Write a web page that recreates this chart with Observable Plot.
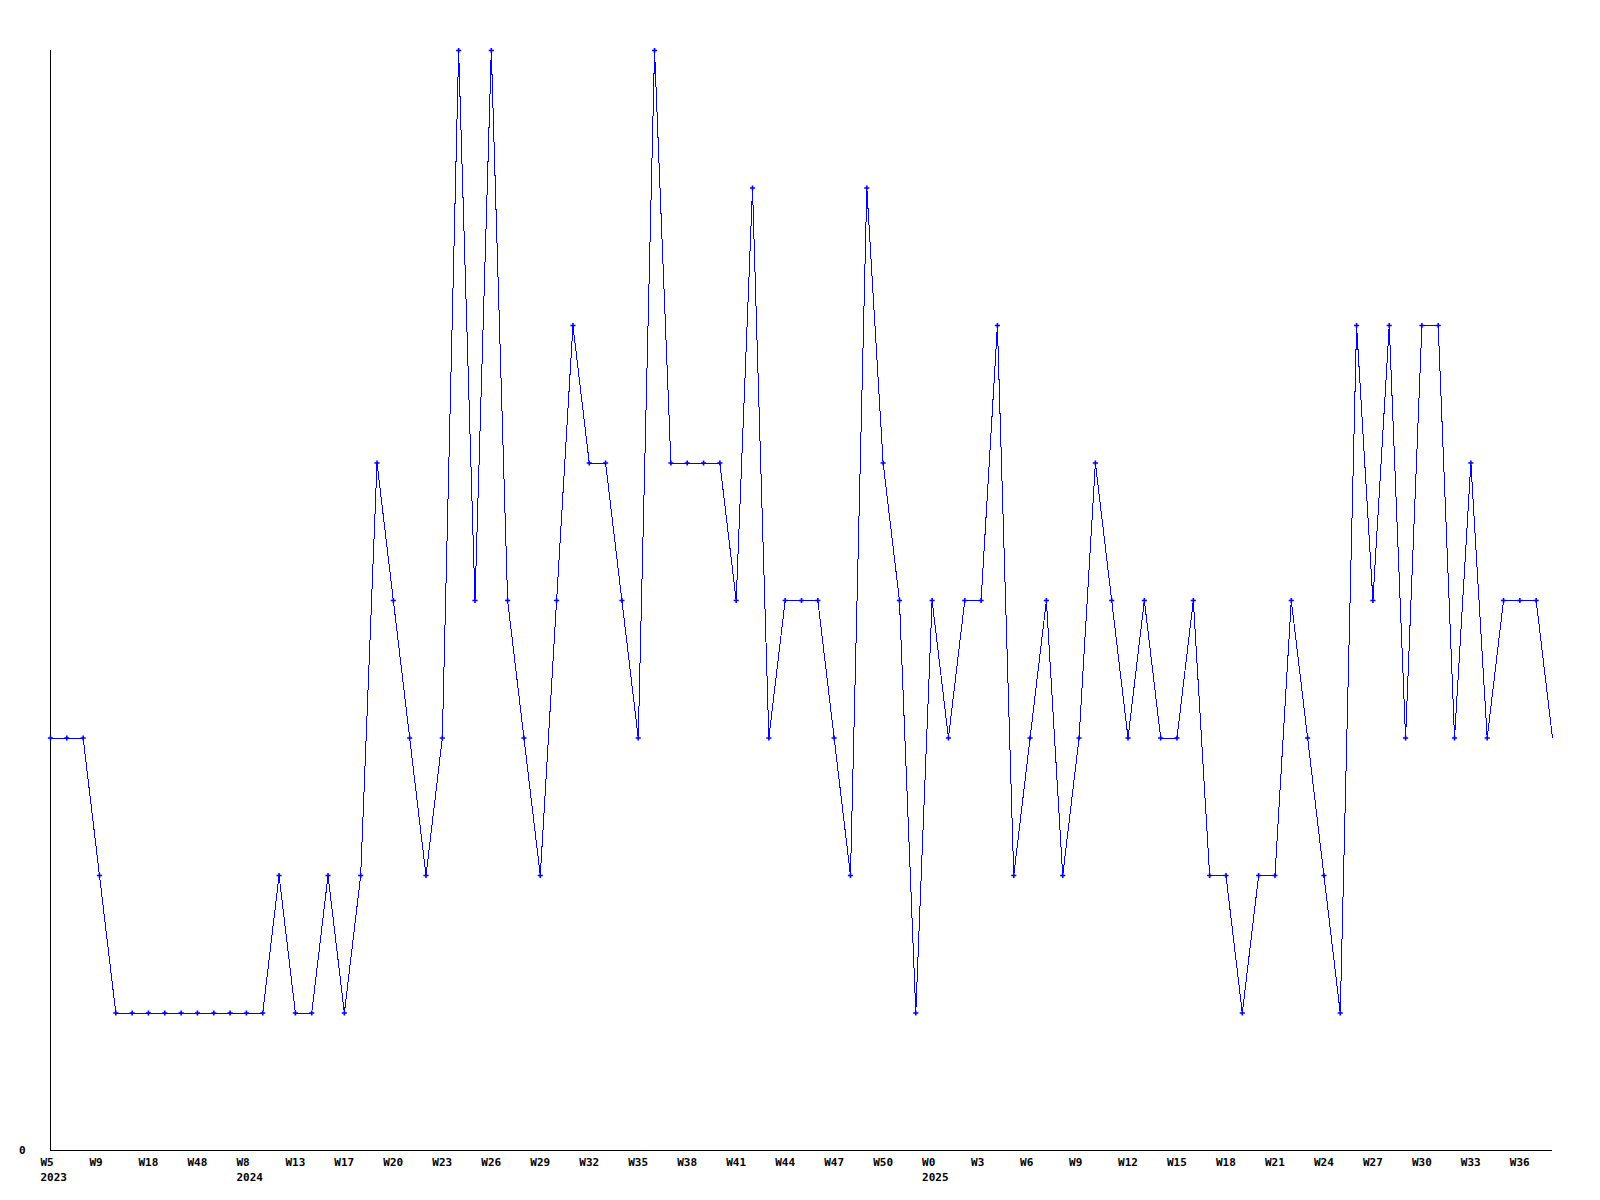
<!DOCTYPE html>
<html>
<head>
<meta charset="utf-8">
<script src="https://cdn.jsdelivr.net/npm/d3@7"></script>
<script src="https://cdn.jsdelivr.net/npm/@observablehq/plot@0.6"></script>
<style>
  html, body { margin: 0; padding: 0; background: #fff; }
  #chart svg { display: block; }
</style>
</head>
<body>
<div id="chart"></div>
<script>
// Weekly values, one per week shown (2023 W5 ... 2025 W38)
const values = [
  3,3,3,2,1,1,1,1,1,1,
  1,1,1,1,2,1,1,2,1,2,
  5,4,3,2,3,8,4,8,4,3,
  2,4,6,5,5,4,3,8,5,5,
  5,5,4,7,3,4,4,4,3,2,
  7,5,4,1,4,3,4,4,6,2,
  3,4,2,3,5,4,3,4,3,3,
  4,2,2,1,2,2,4,3,2,1,
  6,4,6,3,6,6,3,5,3,4,
  4,4,3
];

// Tick labels, one every third week
const tickLabels = [
  "W5\n2023","W9","W18","W48","W8\n2024","W13","W17","W20","W23","W26",
  "W29","W32","W35","W38","W41","W44","W47","W50","W0\n2025","W3",
  "W6","W9","W12","W15","W18","W21","W24","W27","W30","W33","W36"
];
const tickStep = 3;
const yMax = 8;

const data = values.map((v, i) => ({i, v}));
const tickPositions = tickLabels.map((_, k) => k * tickStep);

const chart = Plot.plot({
  width: 1600,
  height: 1200,
  marginLeft: 50,
  marginRight: 48,
  marginTop: 50,
  marginBottom: 50,
  x: {type: "linear", domain: [0, values.length - 1], label: null},
  y: {domain: [0, yMax], label: null},
  style: {
    fontFamily: "'DejaVu Sans Mono', monospace",
    fontSize: "11px",
    fontWeight: "bold",
    background: "#fff",
    color: "#000"
  },
  marks: [
    Plot.ruleX([0], {stroke: "#000", strokeWidth: 1, shapeRendering: "crispEdges"}),
    Plot.ruleY([0], {stroke: "#000", strokeWidth: 1, shapeRendering: "crispEdges"}),
    Plot.line(data, {x: "i", y: "v", stroke: "#0000ff", strokeWidth: 1, shapeRendering: "crispEdges"}),
    Plot.dot(data.slice(0, data.length - 1), {x: "i", y: "v", symbol: "plus", r: 1.8, stroke: "#0000ff", strokeWidth: 1.6}),
    Plot.axisX({
      ticks: tickPositions,
      tickFormat: (d) => tickLabels[Math.round(d / tickStep)],
      tickSize: 0,
      tickPadding: 5,
      textAnchor: "start",
      dx: -10,
      lineHeight: 1.35,
      fill: "#000",
      label: null
    }),
    Plot.axisY({
      ticks: [0],
      tickFormat: (d) => String(d),
      tickSize: 0,
      tickPadding: 25,
      fill: "#000",
      label: null
    })
  ]
});

document.getElementById("chart").appendChild(chart);
</script>
</body>
</html>
